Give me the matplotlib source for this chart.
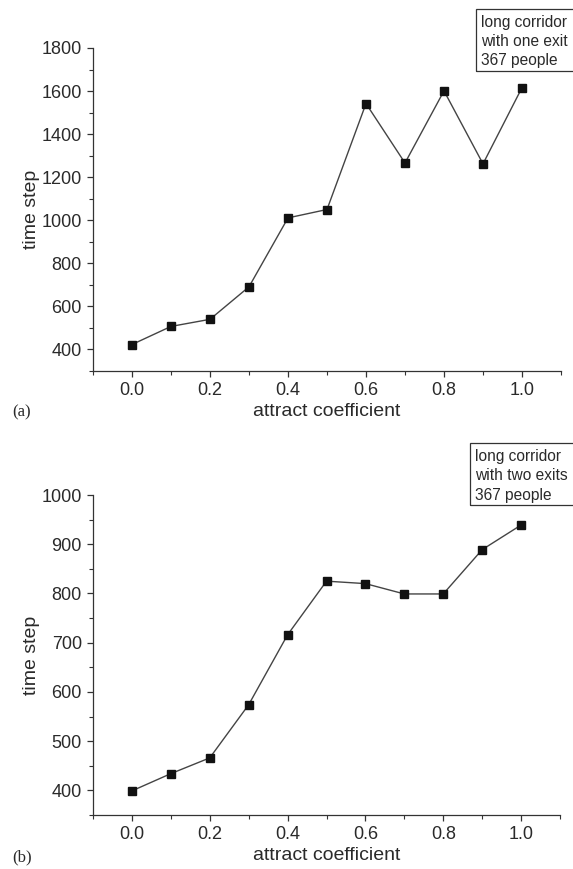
import matplotlib
matplotlib.use("Agg")
import matplotlib.pyplot as plt
from matplotlib.patches import Rectangle
from matplotlib.ticker import MultipleLocator

coef = [0.0, 0.1, 0.2, 0.3, 0.4, 0.5, 0.6, 0.7, 0.8, 0.9, 1.0]
steps_one_exit = [423, 507, 540, 691, 1011, 1050, 1542, 1266, 1601, 1262, 1616]
steps_two_exits = [399, 434, 466, 574, 716, 825, 820, 799, 799, 889, 939]

labels_a = ["long corridor", "with one exit", "367 people"]
labels_b = ["long corridor", "with two exits", "367 people"]

plt.rcParams['font.family'] = ['Liberation Sans', 'DejaVu Sans']
text_col = '#2a2a2a'
W, H = 573, 869

fig = plt.figure(figsize=(W / 100, H / 100), dpi=100)


def px_axes(left, top, right, bottom):
    return fig.add_axes([left / W, 1 - bottom / H, (right - left) / W, (bottom - top) / H])


def style_axes(ax, ylim, ymajor, yminor):
    ax.set_xlim(-0.1, 1.1)
    ax.set_ylim(*ylim)
    ax.xaxis.set_major_locator(MultipleLocator(0.2))
    ax.xaxis.set_minor_locator(MultipleLocator(0.1))
    ax.yaxis.set_major_locator(MultipleLocator(ymajor))
    ax.yaxis.set_minor_locator(MultipleLocator(yminor))
    ax.spines['top'].set_visible(False)
    ax.spines['right'].set_visible(False)
    for s in ('left', 'bottom'):
        ax.spines[s].set_color('#333333')
        ax.spines[s].set_linewidth(0.9)
    ax.tick_params(which='major', direction='out', length=4, width=0.9,
                   color='#333333', labelsize=13, labelcolor=text_col, pad=4)
    ax.tick_params(which='minor', direction='out', length=3, width=0.8, color='#333333')
    ax.xaxis.set_major_formatter(matplotlib.ticker.FormatStrFormatter('%.1f'))
    ax.set_xlabel('attract coefficient', fontsize=14, color=text_col, labelpad=3)
    ax.set_ylabel('time step', fontsize=14, color=text_col, labelpad=1)


def note_box(x0, y0, lines):
    # box runs off the right edge like in the scan
    fig.patches.append(Rectangle((x0 / W, 1 - (y0 + 62) / H), 120 / W, 62 / H,
                                 transform=fig.transFigure, fill=False,
                                 edgecolor='#333333', linewidth=0.9))
    for i, line in enumerate(lines):
        fig.text((x0 + 5) / W, 1 - (y0 + 14 + i * 19) / H, line, fontsize=11.2,
                 color=text_col, va='center', ha='left')


# (a)
ax1 = px_axes(93, 48, 561, 371)
ax1.plot(coef, steps_one_exit, color='#444444', linewidth=1.0,
         marker='s', markersize=6, markerfacecolor='#111111', markeredgecolor='#111111')
style_axes(ax1, (300, 1800), 200, 100)
note_box(476, 9, labels_a)
fig.text(12 / W, 1 - 412 / H, '(a)', family=['Liberation Serif', 'DejaVu Serif'],
         fontsize=12, color=text_col, va='center')

# (b)
ax2 = px_axes(93, 495, 560, 815)
ax2.plot(coef, steps_two_exits, color='#444444', linewidth=1.0,
         marker='s', markersize=6, markerfacecolor='#111111', markeredgecolor='#111111')
style_axes(ax2, (350, 1000), 100, 50)
note_box(470, 443, labels_b)
fig.text(12 / W, 1 - 857 / H, '(b)', family=['Liberation Serif', 'DejaVu Serif'],
         fontsize=12, color=text_col, va='center')

fig.savefig('out.png', dpi=100)
